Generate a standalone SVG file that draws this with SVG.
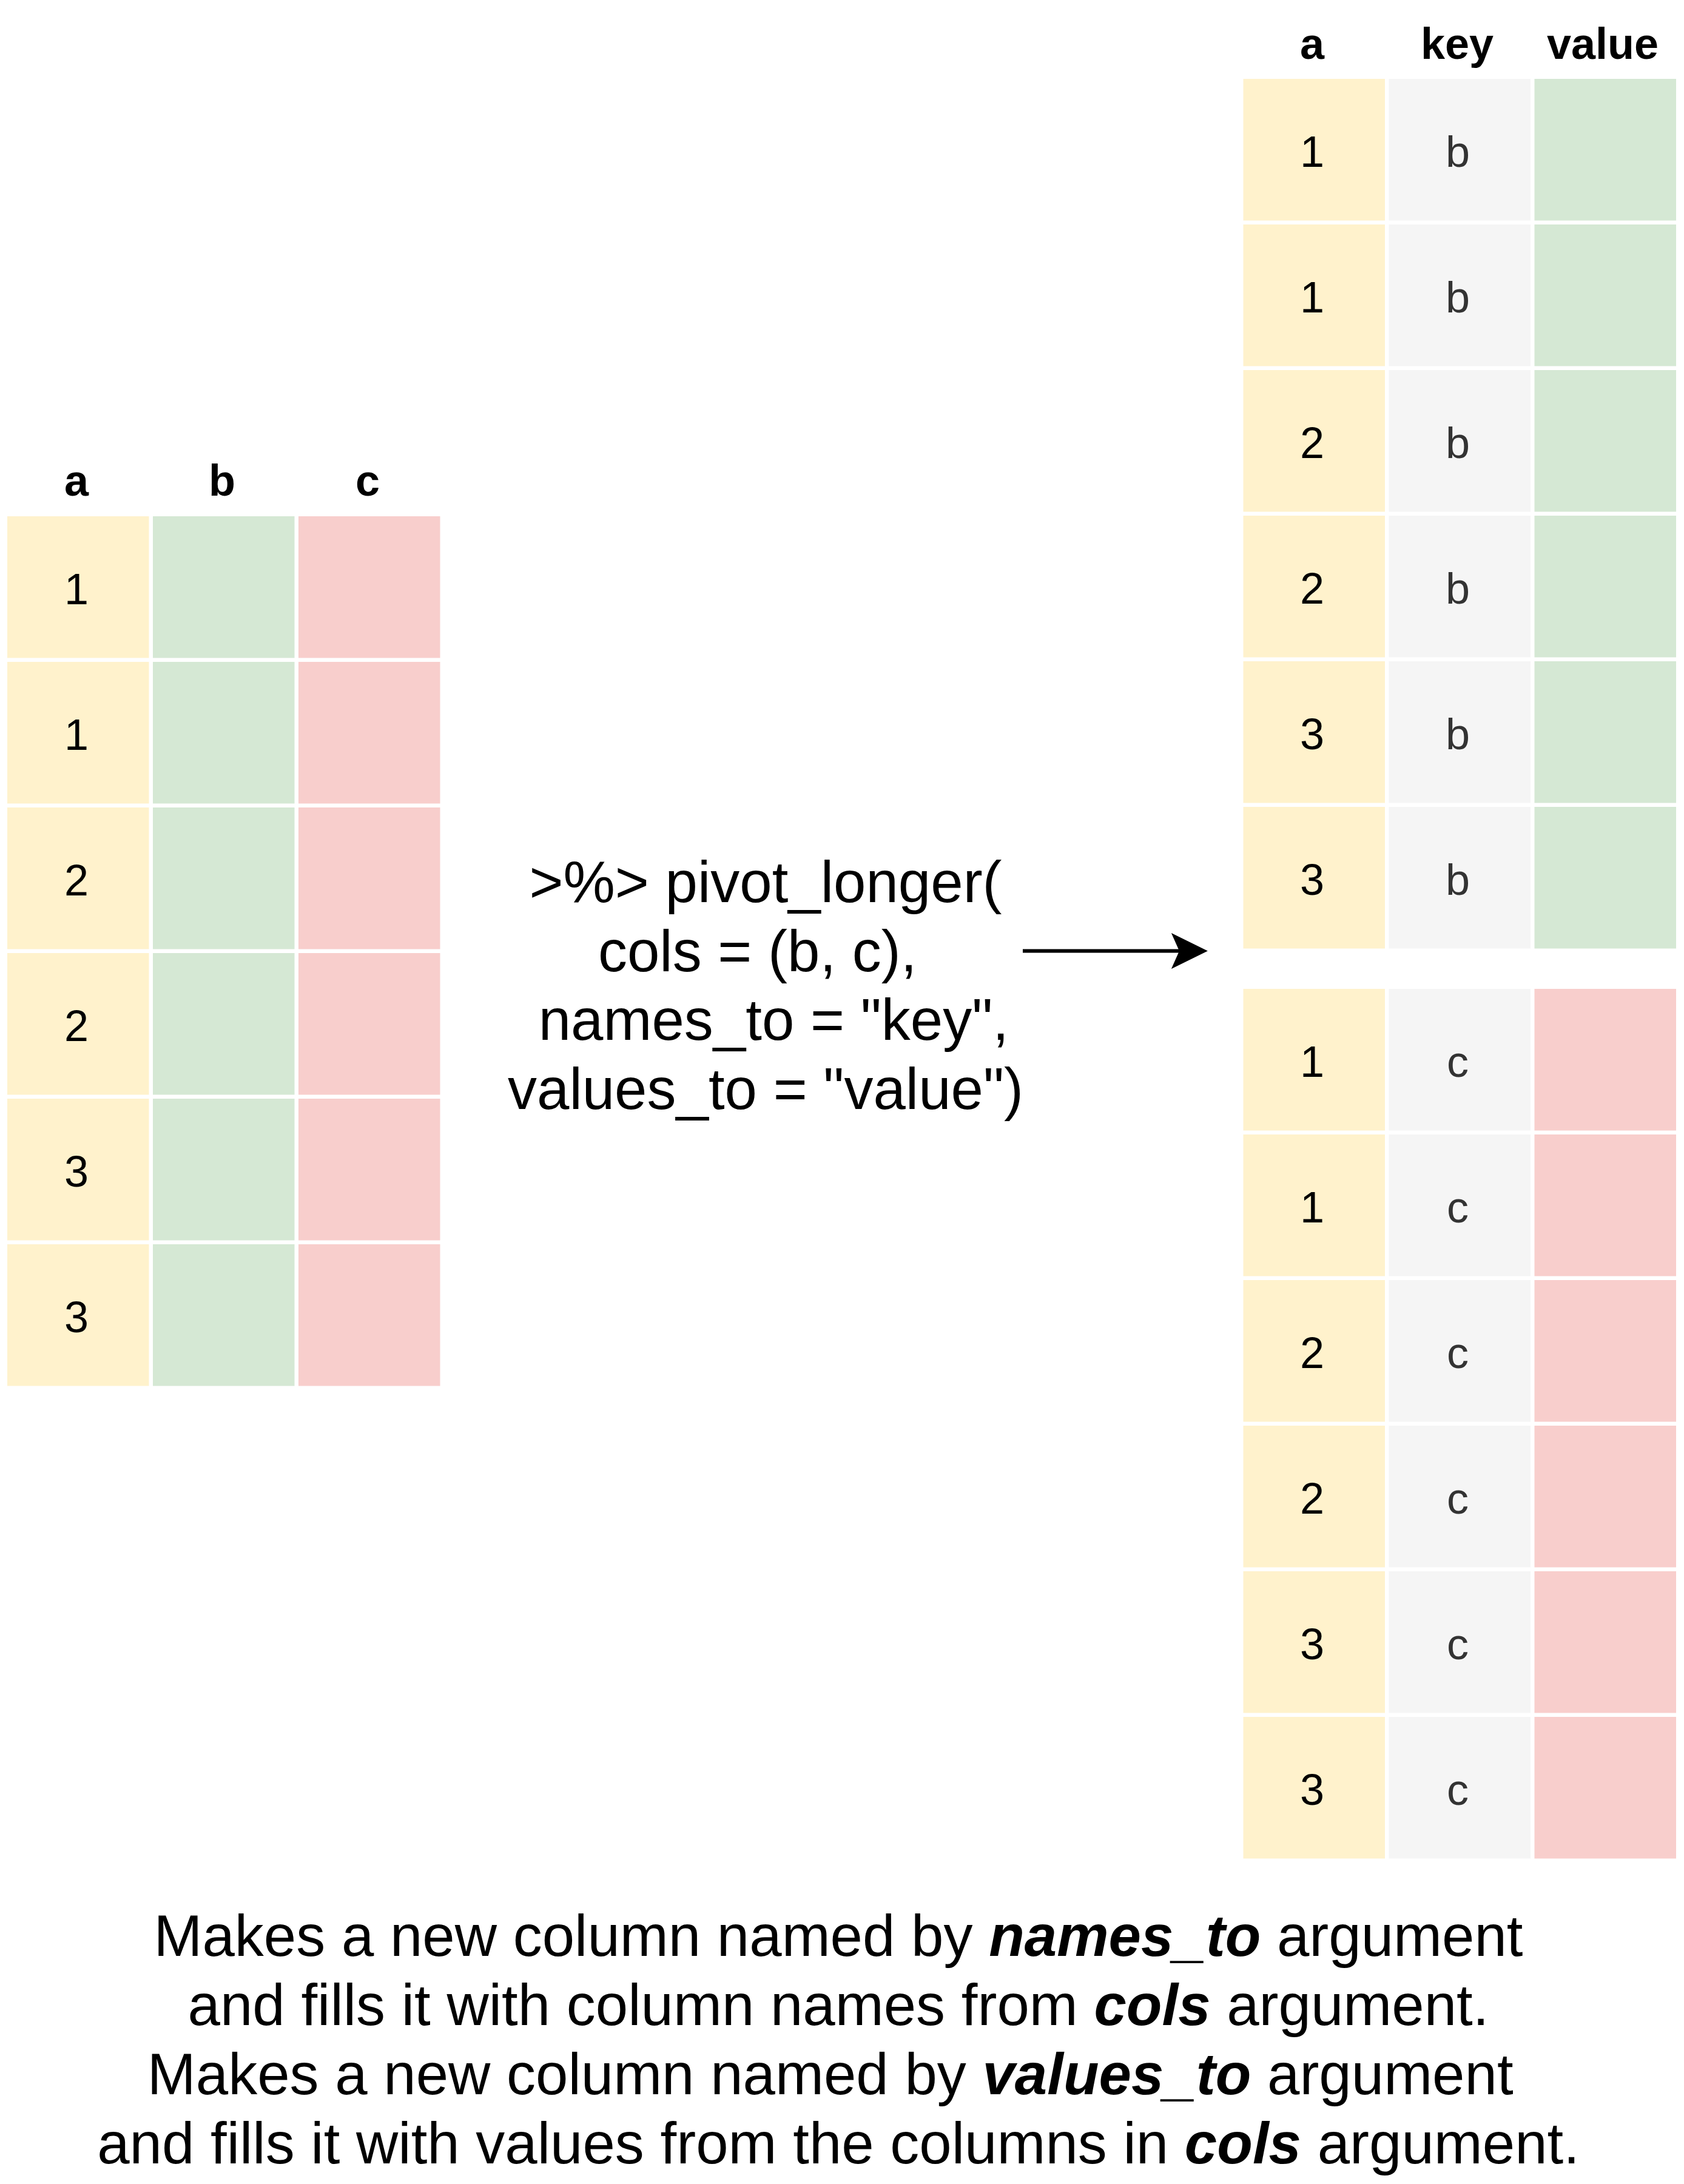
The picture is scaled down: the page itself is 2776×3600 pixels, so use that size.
<svg xmlns="http://www.w3.org/2000/svg" width="2776" height="3600" viewBox="0 0 2776 3600">
<style>
text{font-family:"Liberation Sans",Helvetica,Arial,sans-serif;}
.hdr{font-size:72px;font-weight:bold;text-anchor:middle;fill:#000;}
.num{font-size:72px;text-anchor:middle;fill:#000;}
.key{font-size:72px;text-anchor:middle;fill:#333333;}
.big{font-size:96px;text-anchor:middle;fill:#000;}
.bi{font-weight:bold;font-style:italic;}
.y{fill:#FFF2CC;}
.g{fill:#D5E8D4;}
.p{fill:#F8CECC;}
.k{fill:#F5F5F5;}
.conn{stroke:#000;stroke-width:6;fill:none;}
</style>
<defs>
<marker id="arrow" markerUnits="userSpaceOnUse" markerWidth="60" markerHeight="60" viewBox="0 0 55 54" refX="12" refY="27" orient="auto">
<path d="M0,0 L55,27 L0,54 L12,27 Z" fill="#000"/>
</marker>
</defs>
<rect width="2776" height="3600" fill="#fff"/>

<g id="left-table">
<text class="hdr" x="126" y="817">a</text>
<text class="hdr" x="366" y="817">b</text>
<text class="hdr" x="606" y="817">c</text>
<g id="left-row1"><rect class="y" x="12" y="851" width="233.5" height="233.5"/><rect class="g" x="252" y="851" width="233.5" height="233.5"/><rect class="p" x="492" y="851" width="233.5" height="233.5"/><text class="num" x="126" y="996">1</text></g>
<g id="left-row2"><rect class="y" x="12" y="1091" width="233.5" height="233.5"/><rect class="g" x="252" y="1091" width="233.5" height="233.5"/><rect class="p" x="492" y="1091" width="233.5" height="233.5"/><text class="num" x="126" y="1236">1</text></g>
<g id="left-row3"><rect class="y" x="12" y="1331" width="233.5" height="233.5"/><rect class="g" x="252" y="1331" width="233.5" height="233.5"/><rect class="p" x="492" y="1331" width="233.5" height="233.5"/><text class="num" x="126" y="1476">2</text></g>
<g id="left-row4"><rect class="y" x="12" y="1571" width="233.5" height="233.5"/><rect class="g" x="252" y="1571" width="233.5" height="233.5"/><rect class="p" x="492" y="1571" width="233.5" height="233.5"/><text class="num" x="126" y="1716">2</text></g>
<g id="left-row5"><rect class="y" x="12" y="1811" width="233.5" height="233.5"/><rect class="g" x="252" y="1811" width="233.5" height="233.5"/><rect class="p" x="492" y="1811" width="233.5" height="233.5"/><text class="num" x="126" y="1956">3</text></g>
<g id="left-row6"><rect class="y" x="12" y="2051" width="233.5" height="233.5"/><rect class="g" x="252" y="2051" width="233.5" height="233.5"/><rect class="p" x="492" y="2051" width="233.5" height="233.5"/><text class="num" x="126" y="2196">3</text></g>
</g>

<g id="code-label">
<text class="big" x="1262" y="1487">&gt;%&gt; pivot_longer(</text>
<text class="big" x="1262" y="1600.5">cols = (b, c),&#160;</text>
<text class="big" x="1262" y="1714">&#160;names_to = "key",</text>
<text class="big" x="1262" y="1827.5">values_to = "value")</text>
</g>

<g id="connectors">
<line class="conn" x1="1686" y1="1567.5" x2="1944" y2="1567.5" marker-end="url(#arrow)"/>
</g>

<g id="right-table">
<text class="hdr" x="2163" y="97">a</text>
<text class="hdr" x="2402" y="97">key</text>
<text class="hdr" x="2642" y="97">value</text>
<g id="right-row1"><rect class="y" x="2049.5" y="130" width="233.5" height="233.5"/><rect class="k" x="2289.5" y="130" width="233.5" height="233.5"/><rect class="g" x="2529.5" y="130" width="233.5" height="233.5"/><text class="num" x="2163" y="275">1</text><text class="key" x="2403" y="275">b</text></g>
<g id="right-row2"><rect class="y" x="2049.5" y="370" width="233.5" height="233.5"/><rect class="k" x="2289.5" y="370" width="233.5" height="233.5"/><rect class="g" x="2529.5" y="370" width="233.5" height="233.5"/><text class="num" x="2163" y="515">1</text><text class="key" x="2403" y="515">b</text></g>
<g id="right-row3"><rect class="y" x="2049.5" y="610" width="233.5" height="233.5"/><rect class="k" x="2289.5" y="610" width="233.5" height="233.5"/><rect class="g" x="2529.5" y="610" width="233.5" height="233.5"/><text class="num" x="2163" y="755">2</text><text class="key" x="2403" y="755">b</text></g>
<g id="right-row4"><rect class="y" x="2049.5" y="850" width="233.5" height="233.5"/><rect class="k" x="2289.5" y="850" width="233.5" height="233.5"/><rect class="g" x="2529.5" y="850" width="233.5" height="233.5"/><text class="num" x="2163" y="995">2</text><text class="key" x="2403" y="995">b</text></g>
<g id="right-row5"><rect class="y" x="2049.5" y="1090" width="233.5" height="233.5"/><rect class="k" x="2289.5" y="1090" width="233.5" height="233.5"/><rect class="g" x="2529.5" y="1090" width="233.5" height="233.5"/><text class="num" x="2163" y="1235">3</text><text class="key" x="2403" y="1235">b</text></g>
<g id="right-row6"><rect class="y" x="2049.5" y="1330" width="233.5" height="233.5"/><rect class="k" x="2289.5" y="1330" width="233.5" height="233.5"/><rect class="g" x="2529.5" y="1330" width="233.5" height="233.5"/><text class="num" x="2163" y="1475">3</text><text class="key" x="2403" y="1475">b</text></g>
<g id="right-row7"><rect class="y" x="2049.5" y="1630" width="233.5" height="233.5"/><rect class="k" x="2289.5" y="1630" width="233.5" height="233.5"/><rect class="p" x="2529.5" y="1630" width="233.5" height="233.5"/><text class="num" x="2163" y="1775">1</text><text class="key" x="2403" y="1775">c</text></g>
<g id="right-row8"><rect class="y" x="2049.5" y="1870" width="233.5" height="233.5"/><rect class="k" x="2289.5" y="1870" width="233.5" height="233.5"/><rect class="p" x="2529.5" y="1870" width="233.5" height="233.5"/><text class="num" x="2163" y="2015">1</text><text class="key" x="2403" y="2015">c</text></g>
<g id="right-row9"><rect class="y" x="2049.5" y="2110" width="233.5" height="233.5"/><rect class="k" x="2289.5" y="2110" width="233.5" height="233.5"/><rect class="p" x="2529.5" y="2110" width="233.5" height="233.5"/><text class="num" x="2163" y="2255">2</text><text class="key" x="2403" y="2255">c</text></g>
<g id="right-row10"><rect class="y" x="2049.5" y="2350" width="233.5" height="233.5"/><rect class="k" x="2289.5" y="2350" width="233.5" height="233.5"/><rect class="p" x="2529.5" y="2350" width="233.5" height="233.5"/><text class="num" x="2163" y="2495">2</text><text class="key" x="2403" y="2495">c</text></g>
<g id="right-row11"><rect class="y" x="2049.5" y="2590" width="233.5" height="233.5"/><rect class="k" x="2289.5" y="2590" width="233.5" height="233.5"/><rect class="p" x="2529.5" y="2590" width="233.5" height="233.5"/><text class="num" x="2163" y="2735">3</text><text class="key" x="2403" y="2735">c</text></g>
<g id="right-row12"><rect class="y" x="2049.5" y="2830" width="233.5" height="233.5"/><rect class="k" x="2289.5" y="2830" width="233.5" height="233.5"/><rect class="p" x="2529.5" y="2830" width="233.5" height="233.5"/><text class="num" x="2163" y="2975">3</text><text class="key" x="2403" y="2975">c</text></g>
</g>

<g id="caption">
<text class="big" x="1382" y="3224">Makes a new column named by <tspan class="bi">names_to</tspan> argument</text>
<text class="big" x="1382" y="3338">and fills it with column names from <tspan class="bi">cols</tspan> argument.</text>
<text class="big" x="1382" y="3452">Makes a new column named by <tspan class="bi">values_to</tspan> argument&#160;</text>
<text class="big" x="1382" y="3566">and fills it with values from the columns in <tspan class="bi">cols</tspan> argument.</text>
</g>
</svg>
